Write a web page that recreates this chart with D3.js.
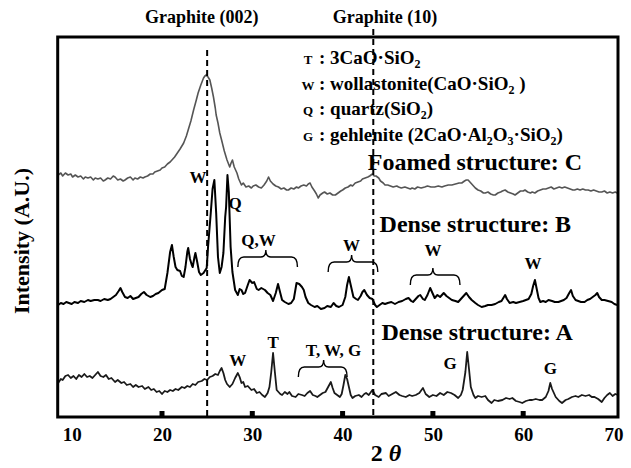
<!DOCTYPE html>
<html>
<head>
<meta charset="utf-8">
<script src="https://cdn.jsdelivr.net/npm/d3@7"></script>
<style>
  body { margin: 0; background: #fff; }
  svg { display: block; }
  svg text { font-family: "Liberation Serif", "Times New Roman", serif; font-weight: bold; }
</style>
</head>
<body>
<div id="chart"></div>
<script>
// tick labels on the 2θ axis
const xTicks = [10, 20, 30, 40, 50, 60, 70];
const xMarks = [20, 30, 40, 50, 60];
// graphite reference lines (2θ)
const graphiteLines = [
    { theta: 25.0, label: "Graphite (002)", lx: 24.4, top: 367 },
    { theta: 43.4, label: "Graphite (10)", lx: 44.7, top: 388 }
];

// [2θ, intensity]
const traceC = [
    [8.5,242],[8.8,244],[9.0,241],[9.3,244],[9.6,242],[9.9,243],[10.1,240],[10.4,242],[10.7,240],[11.0,241],
    [11.3,238],[11.5,240],[11.8,239],[12.1,240],[12.4,237],[12.6,239],[12.9,238],[13.2,239],[13.5,236],[13.7,237],
    [14.0,239],[14.3,238],[14.6,241],[14.8,240],[15.1,237],[15.4,238],[15.7,236],[15.9,237],[16.2,239],[16.5,240],
    [16.8,237],[17.0,239],[17.3,238],[17.6,240],[17.9,239],[18.1,240],[18.4,241],[18.7,243],[19.0,243],[19.2,245],
    [19.5,246],[19.8,247],[20.0,249],[20.3,250],[20.6,253],[20.9,255],[21.2,258],[21.4,260],[21.7,264],[22.0,268],
    [22.2,271],[22.4,274],[22.7,281],[22.9,287],[23.2,296],[23.5,307],[23.8,317],[24.0,324],[24.3,332],[24.6,339],
    [24.75,341],[24.9,342],[25.1,340],[25.3,337],[25.5,329],[25.7,320],[25.9,309],[26.0,302],[26.2,294],[26.4,284],
    [26.6,277],[26.9,266],[27.2,257],[27.5,250],[27.65,254],[27.8,257],[28.0,250],[28.3,244],[28.5,238],[28.8,232],
    [29.0,234],[29.3,230],[29.6,231],[29.9,229],[30.1,231],[30.4,232],[30.7,230],[31.0,229],[31.3,232],[31.6,236],
    [31.8,240],[32.0,236],[32.3,233],[32.6,231],[32.9,230],[33.2,228],[33.5,229],[33.8,227],[34.0,227],[34.3,229],
    [34.6,228],[34.9,230],[35.1,229],[35.4,231],[35.7,232],[36.0,231],[36.2,233],[36.4,234],[36.6,230],[36.9,226],
    [37.1,223],[37.3,219],[37.5,222],[37.8,224],[38.0,225],[38.3,223],[38.6,224],[38.9,222],[39.2,222],[39.5,224],
    [39.8,226],[40.0,227],[40.3,229],[40.6,230],[40.9,232],[41.1,231],[41.4,234],[41.7,235],[42.0,236],[42.2,238],
    [42.5,239],[42.8,240],[43.0,241],[43.3,243],[43.5,241],[43.7,241],[44.0,239],[44.2,236],[44.5,234],[44.7,232],
    [45.0,232],[45.3,231],[45.6,230],[46.0,231],[46.2,230],[46.5,229],[46.9,230],[47.2,229],[47.5,228],[47.7,229],
    [48.0,228],[48.3,230],[48.7,229],[49.1,230],[49.4,231],[49.8,230],[50.2,230],[50.6,231],[51.0,230],[51.3,231],
    [51.7,232],[52.1,232],[52.5,233],[52.9,234],[53.2,234],[53.5,236],[53.7,237],[53.9,237],[54.2,234],[54.5,231],
    [54.7,229],[55.0,227],[55.3,226],[55.6,224],[55.8,224],[56.1,225],[56.4,223],[56.7,222],[56.9,222],[57.2,224],
    [57.5,225],[57.7,226],[58.0,227],[58.3,225],[58.6,224],[58.9,223],[59.1,222],[59.4,224],[59.7,226],[60.0,226],
    [60.2,227],[60.5,225],[60.8,224],[61.0,225],[61.3,224],[61.6,226],[61.9,227],[62.2,228],[62.5,228],[62.8,229],
    [63.1,230],[63.4,228],[63.7,229],[64.0,230],[64.3,229],[64.6,230],[64.9,229],[65.2,228],[65.5,227],[65.7,227],
    [66.0,228],[66.3,227],[66.6,228],[66.9,227],[67.2,227],[67.5,226],[67.8,227],[68.1,226],[68.4,225],[68.7,225],
    [69.0,226],[69.3,224],[69.6,225],[69.9,224],[70.2,225],[70.4,224]
];

const traceB = [
    [8.5,112],[8.8,114],[9.1,113],[9.4,115],[9.7,114],[10.0,113],[10.3,115],[10.7,114],[11.0,116],[11.4,115],
    [11.8,117],[12.1,116],[12.5,117],[12.9,117],[13.2,116],[13.6,118],[14.0,117],[14.3,118],[14.6,120],[14.9,122],
    [15.2,126],[15.4,129],[15.6,125],[15.9,120],[16.2,119],[16.5,121],[16.8,118],[17.1,119],[17.4,120],[17.7,123],
    [18.0,125],[18.3,122],[18.7,120],[19.0,121],[19.3,123],[19.6,124],[20.0,127],[20.3,128],[20.6,144],[20.9,165],
    [21.1,172],[21.3,160],[21.5,150],[21.7,147],[22.0,146],[22.2,141],[22.4,140],[22.6,150],[22.8,165],[22.9,169],
    [23.1,158],[23.3,152],[23.4,150],[23.6,160],[23.7,164],[23.9,155],[24.1,145],[24.3,142],[24.6,144],[24.95,149],
    [25.1,170],[25.4,204],[25.6,228],[25.8,237],[26.0,204],[26.2,160],[26.4,144],[26.6,150],[26.8,164],[27.0,200],
    [27.1,210],[27.25,242],[27.4,225],[27.6,170],[27.8,145],[28.1,127],[28.4,122],[28.6,128],[28.8,127],[29.0,123],
    [29.2,124],[29.5,132],[29.7,137],[30.0,134],[30.2,135],[30.5,128],[30.7,127],[31.0,129],[31.4,127],[31.7,124],
    [32.0,122],[32.3,116],[32.6,124],[32.85,133],[33.1,124],[33.3,117],[33.6,115],[34.0,113],[34.3,114],[34.6,118],
    [34.9,134],[35.2,133],[35.5,130],[35.7,127],[35.9,120],[36.2,114],[36.5,112],[36.9,110],[37.2,111],[37.6,108],
    [38.0,109],[38.3,111],[38.7,110],[39.0,114],[39.3,111],[39.6,110],[40.0,112],[40.3,120],[40.5,132],[40.7,140],
    [40.9,132],[41.2,120],[41.5,118],[41.7,117],[42.0,121],[42.2,125],[42.4,127],[42.7,122],[43.0,119],[43.3,118],
    [43.6,112],[43.8,110],[44.1,112],[44.4,114],[44.7,113],[45.0,114],[45.4,115],[45.8,113],[46.2,115],[46.6,116],
    [47.0,118],[47.3,119],[47.6,116],[47.8,115],[48.1,118],[48.4,121],[48.6,122],[48.9,118],[49.1,117],[49.4,122],
    [49.7,129],[50.0,123],[50.2,119],[50.5,122],[50.8,120],[51.2,124],[51.5,121],[51.8,119],[52.1,117],[52.5,116],
    [52.8,115],[53.1,118],[53.4,121],[53.7,124],[54.0,120],[54.3,117],[54.7,114],[55.0,112],[55.4,110],[55.8,111],
    [56.1,112],[56.5,112],[56.9,113],[57.3,115],[57.6,116],[58.0,122],[58.2,118],[58.5,114],[58.9,115],[59.2,114],
    [59.6,115],[60.0,116],[60.3,117],[60.6,118],[60.9,123],[61.1,131],[61.3,137],[61.5,128],[61.7,119],[61.9,115],
    [62.2,116],[62.5,115],[62.8,117],[63.2,116],[63.5,115],[63.9,115],[64.2,116],[64.5,117],[64.8,119],[65.1,124],
    [65.3,127],[65.5,121],[65.8,117],[66.1,116],[66.4,115],[66.8,115],[67.1,117],[67.4,118],[67.7,120],[68.0,122],
    [68.2,124],[68.4,120],[68.7,117],[69.0,117],[69.4,116],[69.8,115],[70.1,113],[70.4,112]
];

const traceA = [
    [8.5,34],[8.8,38],[9.0,37],[9.3,41],[9.6,42],[9.9,39],[10.2,41],[10.5,38],[10.8,42],[11.1,40],
    [11.4,43],[11.7,40],[12.0,41],[12.3,39],[12.6,42],[12.9,45],[13.2,41],[13.5,40],[13.8,42],[14.1,38],
    [14.4,39],[14.8,35],[15.1,37],[15.5,34],[15.8,35],[16.1,32],[16.5,33],[16.8,30],[17.1,32],[17.4,30],
    [17.8,31],[18.1,28],[18.5,30],[18.8,27],[19.1,28],[19.4,25],[19.7,26],[20.0,23],[20.3,26],[20.6,25],
    [20.9,27],[21.2,26],[21.5,28],[21.8,27],[22.2,30],[22.5,29],[22.8,31],[23.1,30],[23.4,33],[23.7,32],
    [24.0,35],[24.4,36],[24.7,38],[25.0,37],[25.3,40],[25.6,41],[25.9,43],[26.2,42],[26.4,46],[26.6,49],
    [26.8,44],[27.0,37],[27.2,33],[27.5,30],[27.8,33],[28.1,39],[28.4,44],[28.6,40],[28.8,34],[29.0,35],
    [29.2,30],[29.5,31],[29.9,27],[30.2,28],[30.5,24],[30.8,25],[31.1,22],[31.4,20],[31.7,24],[31.9,30],
    [32.1,45],[32.3,64],[32.5,45],[32.7,27],[32.9,25],[33.1,23],[33.3,22],[33.6,25],[33.9,23],[34.1,25],
    [34.4,21],[34.8,20],[35.1,23],[35.5,22],[35.8,21],[36.1,24],[36.4,26],[36.7,22],[37.0,21],[37.2,20],
    [37.5,22],[37.8,24],[38.1,25],[38.4,30],[38.7,35],[38.9,29],[39.1,24],[39.4,22],[39.7,20],[39.9,23],
    [40.1,32],[40.3,42],[40.5,38],[40.7,30],[40.9,22],[41.1,19],[41.4,21],[41.8,22],[42.1,20],[42.4,23],
    [42.6,24],[42.9,22],[43.3,27],[43.6,22],[44.0,20],[44.3,23],[44.8,24],[45.1,21],[45.5,23],[45.9,25],
    [46.3,22],[46.6,21],[47.0,20],[47.4,22],[47.7,21],[48.1,22],[48.5,24],[48.9,29],[49.2,23],[49.6,20],
    [50.0,22],[50.4,21],[50.8,24],[51.2,22],[51.6,25],[52.0,24],[52.4,22],[52.8,19],[53.1,22],[53.3,27],
    [53.6,45],[53.8,65],[54.0,48],[54.2,30],[54.5,22],[54.7,19],[55.0,21],[55.4,20],[55.8,21],[56.1,17],
    [56.5,14],[56.8,17],[57.2,16],[57.7,17],[58.1,19],[58.5,18],[58.8,19],[59.2,16],[59.6,15],[59.9,14],
    [60.3,16],[60.7,17],[61.0,17],[61.4,18],[61.8,17],[62.1,17],[62.5,20],[62.8,26],[63.0,34],[63.2,28],
    [63.6,20],[64.0,16],[64.3,14],[64.7,17],[65.0,18],[65.4,20],[65.8,21],[66.1,20],[66.5,22],[66.9,21],
    [67.3,22],[67.6,20],[67.9,20],[68.3,18],[68.7,15],[69.0,19],[69.3,22],[69.6,24],[69.9,21],[70.2,23],
    [70.5,22]
];

// sample names, placed at [2θ start, intensity]
const sampleNames = [
    { text: "Foamed structure: C", theta: 42.8, level: 247 },
    { text: "Dense structure: B", theta: 44.1, level: 185 },
    { text: "Dense structure: A", theta: 44.3, level: 77 }
];

// phase letters over the peaks
const phaseMarks = [
    { text: "W", theta: 24.0, level: 240 },
    { text: "Q", theta: 28.1, level: 214 },
    { text: "Q,W", theta: 30.7, level: 177 },
    { text: "W", theta: 41.0, level: 172 },
    { text: "W", theta: 50.0, level: 167 },
    { text: "W", theta: 61.1, level: 154 },
    { text: "W", theta: 28.4, level: 57 },
    { text: "T", theta: 32.3, level: 75 },
    { text: "T, W, G", theta: 39.0, level: 67 },
    { text: "G", theta: 51.9, level: 54 },
    { text: "G", theta: 63.0, level: 49 }
];

// curly brackets grouping peaks
const braces = [
    { from: 28.4, to: 35.0, tip: 31.5, level: 160 },
    { from: 38.4, to: 43.9, tip: 41.0, level: 155 },
    { from: 47.5, to: 53.0, tip: 50.0, level: 142 },
    { from: 35.1, to: 40.5, tip: 37.9, level: 50 }
];

// phase key
const phaseKey = [
    { letter: "T", parts: [["3CaO\u00b7SiO", ""], ["2", "sub"]] },
    { letter: "W", parts: [["wollastonite(CaO\u00b7SiO", ""], ["2", "sub"], [" )", ""]] },
    { letter: "Q", parts: [["quartz(SiO", ""], ["2", "sub"], [")", ""]] },
    { letter: "G", parts: [["gehlenite (2CaO\u00b7Al", ""], ["2", "sub"], ["O", ""], ["3", "sub"], ["\u00b7SiO", ""], ["2", "sub"], [")", ""]] }
];

const FONT = "'Liberation Serif', 'Times New Roman', serif";
const width = 631, height = 468;
const plot = { left: 57.7, right: 618, top: 37, bottom: 417 };

const svg = d3.select("#chart").append("svg")
    .attr("width", width)
    .attr("height", height)
    .attr("font-family", FONT)
    .attr("font-weight", "bold");

const x = d3.scaleLinear().domain([8.45, 70.5]).range([plot.left, plot.right]);
const y = d3.scaleLinear().domain([0, 380]).range([plot.bottom, plot.top]);

/* traces */
const line = d3.line().x(d => x(d[0])).y(d => y(d[1]));

svg.append("path").datum(traceC)
    .attr("d", line).attr("fill", "none")
    .attr("stroke", "#555").attr("stroke-width", 1.6).attr("stroke-linejoin", "round");
svg.append("path").datum(traceB)
    .attr("d", line).attr("fill", "none")
    .attr("stroke", "#000").attr("stroke-width", 2).attr("stroke-linejoin", "round");
svg.append("path").datum(traceA)
    .attr("d", line).attr("fill", "none")
    .attr("stroke", "#1a1a1a").attr("stroke-width", 1.8).attr("stroke-linejoin", "round");

/* graphite dashed lines */
svg.append("g").selectAll("line")
    .data(graphiteLines)
    .join("line")
    .attr("x1", d => x(d.theta)).attr("x2", d => x(d.theta))
    .attr("y1", d => y(d.top)).attr("y2", plot.bottom)
    .attr("stroke", "#000").attr("stroke-width", 2)
    .attr("stroke-dasharray", "6,4");

svg.append("g").selectAll("text")
    .data(graphiteLines)
    .join("text")
    .attr("x", d => x(d.lx)).attr("y", 23)
    .attr("text-anchor", "middle")
    .attr("font-size", 18)
    .text(d => d.label);

/* frame */
svg.append("rect")
    .attr("x", plot.left).attr("y", plot.top)
    .attr("width", plot.right - plot.left).attr("height", plot.bottom - plot.top)
    .attr("fill", "none").attr("stroke", "#000").attr("stroke-width", 3);

/* x axis */
const xAxis = d3.axisBottom(x).tickValues(xTicks).tickSize(0).tickPadding(11);
svg.append("g")
    .attr("transform", `translate(0,${plot.bottom})`)
    .call(xAxis)
    .call(g => g.attr("font-family", FONT).attr("font-size", 19))
    .call(g => g.select(".domain").remove())
    .call(g => g.selectAll("text")
        .attr("font-weight", "bold")
        .attr("fill", "#000"));

svg.append("g").selectAll("rect")
    .data(xMarks)
    .join("rect")
    .attr("x", d => x(d) - 2.5).attr("y", plot.bottom - 6)
    .attr("width", 5).attr("height", 6)
    .attr("fill", "#000");

const xTitle = svg.append("text")
    .attr("x", 386).attr("y", 461)
    .attr("text-anchor", "middle")
    .attr("font-size", 24)
    .attr("font-weight", "normal");
xTitle.append("tspan").text("2 ");
xTitle.append("tspan").attr("font-style", "italic").text("\u03b8");

/* y title */
svg.append("text")
    .attr("transform", "translate(29,241) rotate(-90)")
    .attr("text-anchor", "middle")
    .attr("font-size", 22)
    .text("Intensity  (A.U.)");

/* sample names */
svg.append("g").selectAll("text")
    .data(sampleNames)
    .join("text")
    .attr("x", d => x(d.theta)).attr("y", d => y(d.level))
    .attr("font-size", 24)
    .text(d => d.text);

/* phase letters */
svg.append("g").selectAll("text")
    .data(phaseMarks)
    .join("text")
    .attr("x", d => x(d.theta)).attr("y", d => y(d.level))
    .attr("dy", "0.35em")
    .attr("text-anchor", "middle")
    .attr("font-size", 17)
    .text(d => d.text);

/* braces */
const braceDepth = 10, tipRise = 7;
svg.append("g").selectAll("path")
    .data(braces)
    .join("path")
    .attr("fill", "none").attr("stroke", "#000").attr("stroke-width", 1.4)
    .attr("d", d => {
        const x0 = x(d.from), x1 = x(d.to), xm = x(d.tip), yb = y(d.level);
        return `M${x0},${yb + braceDepth} Q${x0},${yb} ${x0 + 6},${yb}`
            + ` L${xm - 5},${yb} Q${xm},${yb} ${xm},${yb - tipRise}`
            + ` Q${xm},${yb} ${xm + 5},${yb} L${x1 - 6},${yb}`
            + ` Q${x1},${yb} ${x1},${yb + braceDepth}`;
    });

/* phase key */
const key = svg.append("g");
phaseKey.forEach((row, i) => {
    const ty = 64 + i * 25.5;
    key.append("text")
        .attr("x", 308).attr("y", ty)
        .attr("text-anchor", "middle")
        .attr("font-size", 13)
        .text(row.letter);
    const t = key.append("text")
        .attr("x", 319).attr("y", ty)
        .attr("font-size", 19);
    t.append("tspan").text(": ");
    let down = false;
    row.parts.forEach(p => {
        const s = t.append("tspan").text(p[0]);
        if (p[1] === "sub") {
            s.attr("font-size", 12).attr("dy", down ? 0 : 4);
            down = true;
        } else {
            if (down) s.attr("dy", -4);
            down = false;
        }
    });
});
</script>
</body>
</html>
